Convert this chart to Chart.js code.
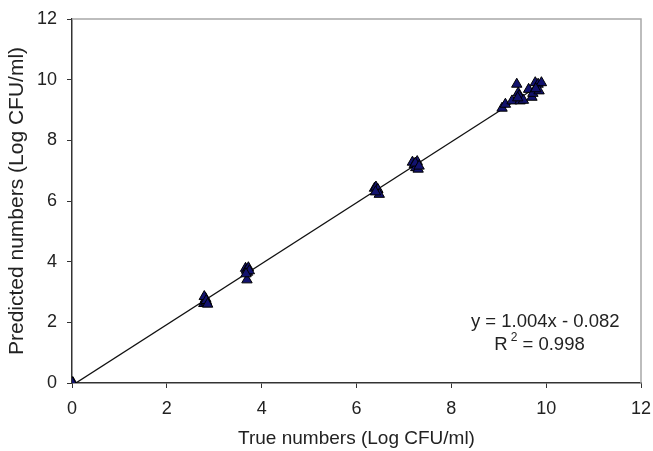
<!DOCTYPE html>
<html><head><meta charset="utf-8">
<script src="https://cdn.jsdelivr.net/npm/chart.js@4/dist/chart.umd.min.js"></script>
<style>html,body{margin:0;padding:0;background:#fff}#wrap{width:653px;height:451px}</style>
</head><body><div id="wrap"><canvas id="c" width="653" height="451"></canvas></div>
<script>
const trueValues = [0,0.02,0,
 2.78,2.80,2.82,2.84,2.79,2.83,2.86,
 3.66,3.68,3.70,3.72,3.69,3.74,3.67,
 6.38,6.41,6.43,6.45,6.48,6.40,
 7.18,7.22,7.25,7.28,7.30,7.24,7.32,
 9.07,9.14,9.28,9.38,9.41,9.45,9.43,9.52,9.63,9.70,9.72,9.77,9.83,9.90,9.85,9.78,9.40];
const predictedValues = [0,0.01,0.02,
 2.62,2.70,2.78,2.66,2.85,2.72,2.60,
 3.78,3.72,3.65,3.80,3.40,3.70,3.60,
 6.42,6.46,6.35,6.38,6.22,6.30,
 7.28,7.20,7.10,7.30,7.05,7.25,7.15,
 9.06,9.19,9.30,9.85,9.56,9.30,9.47,9.32,9.68,9.42,9.55,9.90,9.85,9.90,9.63,9.70,9.40];
const trendX = [0, 9.9];
const trendY = [-0.082, 9.858];
const xTicks = [0,2,4,6,8,10,12];
const yTicks = [0,2,4,6,8,10,12];
const equationText = "y = 1.004x - 0.082";
const r2Text = "0.998";

const FONT = "'Liberation Sans', Arial, sans-serif";
const TXT = '#222';

const frame = {
  id:'frame',
  afterDraw(ch){
    const a = ch.chartArea, c = ch.ctx;
    c.save();
    c.strokeStyle = '#a8a8a8'; c.lineWidth = 1.5;
    c.beginPath(); c.moveTo(a.left, a.top); c.lineTo(a.right, a.top); c.lineTo(a.right, a.bottom); c.stroke();
    const xs = ch.scales.x, ys = ch.scales.y;
    c.fillStyle = TXT; c.font = "18.5px " + FONT; c.textBaseline = 'middle';
    c.textAlign = 'center';
    c.fillText(equationText, xs.getPixelForValue(9.98), ys.getPixelForValue(2.02));
    const cx = xs.getPixelForValue(9.86), cy = ys.getPixelForValue(1.27);
    const rest = " = " + r2Text;
    const wR = c.measureText("R").width;
    c.font = "12px " + FONT; const w2 = c.measureText("2").width;
    c.font = "18.5px " + FONT; const wRest = c.measureText(rest).width;
    const total = wR + 3 + w2 + wRest;
    let x0 = cx - total/2;
    c.textAlign = 'left';
    c.fillText("R", x0, cy);
    c.font = "12px " + FONT; c.fillText("2", x0 + wR + 3, cy - 7);
    c.font = "18.5px " + FONT; c.fillText(rest, x0 + wR + 3 + w2, cy);
    c.restore();
  }
};

new Chart(document.getElementById('c'), {
  type:'scatter',
  data:{datasets:[
    {type:'line', data: trendX.map((x,i)=>({x, y:trendY[i]})), borderColor:'#111', borderWidth:1.3, pointRadius:0, fill:false, order:2},
    {data: trueValues.map((x,i)=>({x, y:predictedValues[i]})), pointStyle:'triangle', pointRadius:6, backgroundColor:'#12126e', borderColor:'#000', borderWidth:1, order:1}
  ]},
  options:{
    responsive:false, animation:false, devicePixelRatio:1,
    layout:{padding:{top:19,right:12,left:0,bottom:0}},
    plugins:{legend:{display:false}, tooltip:{enabled:false}},
    scales:{
      x:{type:'linear', min:0, max:12,
        afterBuildTicks(s){ s.ticks = xTicks.map(v=>({value:v})); },
        afterFit(s){ s.height = 68; s.paddingRight = 0; s.paddingLeft = 0; },
        grid:{drawOnChartArea:false, tickLength:5, tickColor:'#333', color:'#333'},
        border:{color:'#333', width:1.5},
        ticks:{padding:10, color:TXT, font:{family:FONT, size:18}},
        title:{display:true, text:'True numbers (Log CFU/ml)', color:TXT, font:{family:FONT, size:19}, padding:{top:0,bottom:1}}
      },
      y:{type:'linear', min:0, max:12,
        afterBuildTicks(s){ s.ticks = yTicks.map(v=>({value:v})); },
        afterFit(s){ s.width = 72; s.paddingTop = 0; s.paddingBottom = 0; },
        grid:{drawOnChartArea:false, tickLength:5, tickColor:'#333', color:'#333'},
        border:{color:'#333', width:1.5},
        ticks:{padding:10, color:TXT, font:{family:FONT, size:18}},
        title:{display:true, text:'Predicted numbers (Log CFU/ml)', color:TXT, font:{family:FONT, size:21}, padding:{top:5,bottom:0}}
      }
    }
  },
  plugins:[frame]
});
</script></body></html>
